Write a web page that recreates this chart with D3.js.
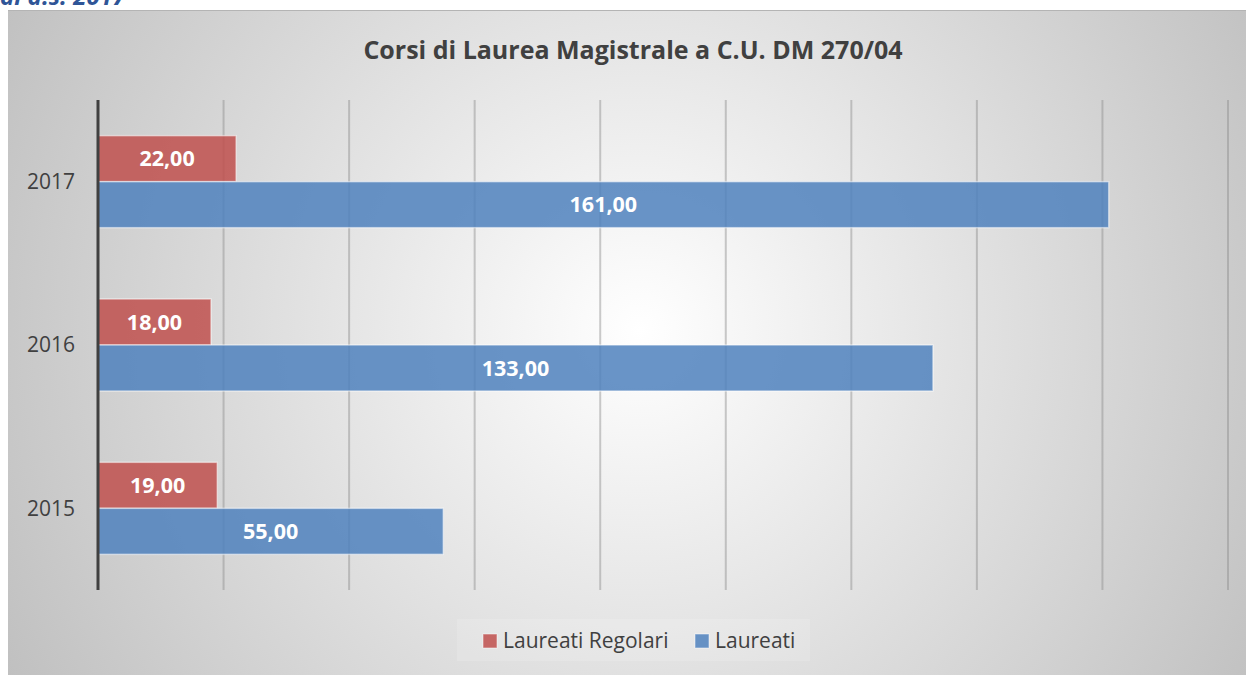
<!DOCTYPE html>
<html>
<head>
<meta charset="utf-8">
<script src="https://cdn.jsdelivr.net/npm/d3@7"></script>
<style>
  body { margin: 0; background: #fff; }
  svg { display: block; font-family: "Open Sans", Lato, sans-serif; }
</style>
</head>
<body>
<svg width="1246" height="675"></svg>
<script>
// data
var years = ["2015", "2016", "2017"];
var regolari = [19, 18, 22];
var laureati = [55, 133, 161];
var seriesNames = ["Laureati Regolari", "Laureati"];
var seriesColors = ["#c0504d", "#4f81bd"];
var xTicks = [0, 20, 40, 60, 80, 100, 120, 140, 160, 180];

var svg = d3.select("svg");
var width = +svg.attr("width");
var height = +svg.attr("height");

// background gradient
var defs = svg.append("defs");
var grad = defs.append("radialGradient")
  .attr("id", "bg")
  .attr("gradientUnits", "userSpaceOnUse")
  .attr("cx", 640).attr("cy", 330).attr("r", 720);
grad.append("stop").attr("offset", "0%").attr("stop-color", "#ffffff");
grad.append("stop").attr("offset", "100%").attr("stop-color", "#c0c0c0");

// top caption (cut off in the original too)
svg.append("text")
  .attr("x", 0)
  .attr("y", 5)
  .style("font-size", "24px")
  .style("font-weight", "bold")
  .style("font-style", "italic")
  .style("fill", "#2f5597")
  .text("al a.s. 2017");

svg.append("rect")
  .attr("x", 8).attr("y", 10)
  .attr("width", width - 8).attr("height", height - 10)
  .attr("fill", "url(#bg)");
svg.append("line")
  .attr("x1", 8).attr("x2", width)
  .attr("y1", 10.5).attr("y2", 10.5)
  .style("stroke", "#b4b4b4");

// title
svg.append("text")
  .attr("x", 633)
  .attr("y", 59)
  .attr("text-anchor", "middle")
  .style("font-size", "25px")
  .style("font-weight", "bold")
  .style("fill", "#404040")
  .text("Corsi di Laurea Magistrale a C.U. DM 270/04");

// scales
var x = d3.scaleLinear().domain([0, 180]).range([98, 1228]);
var y = d3.scaleBand().domain(years.slice().reverse()).range([100, 590]);
var inner = d3.scaleBand().domain([0, 1]).range([0, 92]);

// gridlines
svg.append("g")
  .attr("class", "grid")
  .selectAll("line")
  .data(xTicks.slice(1))
  .enter()
  .append("line")
  .attr("x1", (d) => x(d))
  .attr("x2", (d) => x(d))
  .attr("y1", 100)
  .attr("y2", 590)
  .style("stroke", "#8c8c8c")
  .style("stroke-opacity", 0.45)
  .style("stroke-width", 2);

// bars
var rows = years.map(function (yr, i) {
  return [
    { year: yr, s: 0, v: regolari[i] },
    { year: yr, s: 1, v: laureati[i] }
  ];
});
var flat = [].concat.apply([], rows);

var bars = svg.append("g").selectAll("g")
  .data(flat)
  .enter()
  .append("g")
  .attr("transform", (d) => "translate(0," + (y(d.year) + (y.bandwidth() - 92) / 2 + inner(d.s)) + ")");

bars.append("rect")
  .attr("x", x(0))
  .attr("y", 0)
  .attr("width", (d) => x(d.v) - x(0))
  .attr("height", inner.bandwidth())
  .style("fill", (d) => seriesColors[d.s])
  .style("fill-opacity", 0.85)
  .style("stroke", "#ffffff")
  .style("stroke-opacity", 0.5)
  .style("stroke-width", 1.5);

bars.append("text")
  .attr("x", (d) => (x(0) + x(d.v)) / 2)
  .attr("y", inner.bandwidth() / 2)
  .attr("dy", "0.35em")
  .attr("text-anchor", "middle")
  .style("font-size", "21.5px")
  .style("font-weight", "bold")
  .style("fill", "#ffffff")
  .text((d) => d3.format(".2f")(d.v).replace(".", ","));

// left axis
svg.append("line")
  .attr("x1", x(0)).attr("x2", x(0))
  .attr("y1", 100).attr("y2", 590)
  .style("stroke", "#404040")
  .style("stroke-width", 3);

svg.append("g")
  .selectAll("text")
  .data(years)
  .enter()
  .append("text")
  .attr("x", 75)
  .attr("y", (d) => y(d) + y.bandwidth() / 2)
  .attr("dy", "0.35em")
  .attr("text-anchor", "end")
  .style("font-size", "21px")
  .style("fill", "#404040")
  .text((d) => d);

// legend
svg.append("rect")
  .attr("x", 457).attr("y", 619)
  .attr("width", 353).attr("height", 42)
  .style("fill", "#ffffff")
  .style("fill-opacity", 0.15);

var legendX = [483, 695];
var legend = svg.append("g").selectAll("g")
  .data(seriesNames)
  .enter()
  .append("g")
  .attr("transform", (d, i) => "translate(" + legendX[i] + ",641)");
legend.append("rect")
  .attr("x", 0).attr("y", -7)
  .attr("width", 14).attr("height", 14)
  .style("fill", (d, i) => seriesColors[i])
  .style("fill-opacity", 0.85)
  .style("stroke", "#ffffff")
  .style("stroke-opacity", 0.5);
legend.append("text")
  .attr("x", 20)
  .attr("dy", "0.35em")
  .style("font-size", "21px")
  .style("fill", "#404040")
  .text((d) => d);
</script>
</body>
</html>
